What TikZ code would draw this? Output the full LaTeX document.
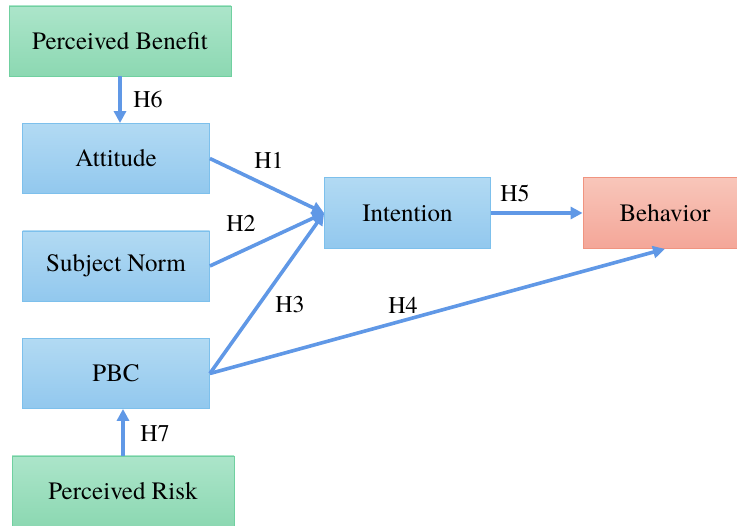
\documentclass[tikz,border=0pt]{standalone}
\usepackage{fontspec}
\setmainfont{TeX Gyre Termes}
\usetikzlibrary{arrows.meta}

\definecolor{bluetop}{RGB}{178,218,243}
\definecolor{bluebot}{RGB}{146,200,238}
\definecolor{blueline}{RGB}{125,192,236}
\definecolor{greentop}{RGB}{172,229,202}
\definecolor{greenbot}{RGB}{140,216,178}
\definecolor{greenline}{RGB}{112,208,160}
\definecolor{redtop}{RGB}{248,198,186}
\definecolor{redbot}{RGB}{244,166,152}
\definecolor{redline}{RGB}{240,148,128}
\definecolor{linkblue}{RGB}{96,152,230}

\begin{document}
\begin{tikzpicture}[x=1pt, y=-1pt,
    box/.style={draw=#1, line width=0.8pt, minimum height=70pt, inner sep=0pt,
      font=\fontsize{25}{29}\selectfont},
    bluebox/.style={box=blueline, top color=bluetop, bottom color=bluebot},
    greenbox/.style={box=greenline, top color=greentop, bottom color=greenbot},
    redbox/.style={box=redline, top color=redtop, bottom color=redbot},
    link/.style={draw=linkblue, line width=3.6pt, -{Triangle[length=12pt,width=12pt]}},
    hyp/.style={font=\fontsize{24}{28}\selectfont, inner sep=0pt}]
    \useasboundingbox (0,0) rectangle (737,526);
    \clip (0,0) rectangle (737,526);

    % Boxes on the left
    \node[greenbox, minimum width=222pt] (benefit) at (120,41) {Perceived Benefit};
    \node[bluebox, minimum width=187pt] (attitude) at (116,158.5) {Attitude};
    \node[bluebox, minimum width=187pt] (norm) at (116,266) {Subject Norm};
    \node[bluebox, minimum width=187pt] (pbc) at (116,373.5) {PBC};
    \node[greenbox, minimum width=222pt] (risk) at (123,491) {Perceived Risk};
    % Boxes on the right
    \node[bluebox, minimum width=166pt, minimum height=71pt] (intention) at (407.5,213) {Intention};
    \node[redbox, minimum width=164pt, minimum height=71pt] (behavior) at (665,213) {Behavior};

    % Hypotheses
    \draw[link] (benefit.south) -- (benefit.south |- attitude.north);
    \draw[link] (risk.north) -- (risk.north |- pbc.south);
    \draw[link] (attitude.east) -- (intention.west);
    \draw[link] (norm.east) -- (intention.west);
    \draw[link] (pbc.east) -- (intention.west);
    \draw[link] (pbc.east) -- (behavior.south);
    \draw[link] (intention.east) -- (behavior.west);

    \node[hyp] (h1) at (269,160) {H1};
    \node[hyp] (h2) at (241,223) {H2};
    \node[hyp] (h3) at (290,305) {H3};
    \node[hyp] (h4) at (403,305) {H4};
    \node[hyp] (h5) at (515,193) {H5};
    \node[hyp] (h6) at (148,99) {H6};
    \node[hyp] (h7) at (155,433.5) {H7};
\end{tikzpicture}
\end{document}
